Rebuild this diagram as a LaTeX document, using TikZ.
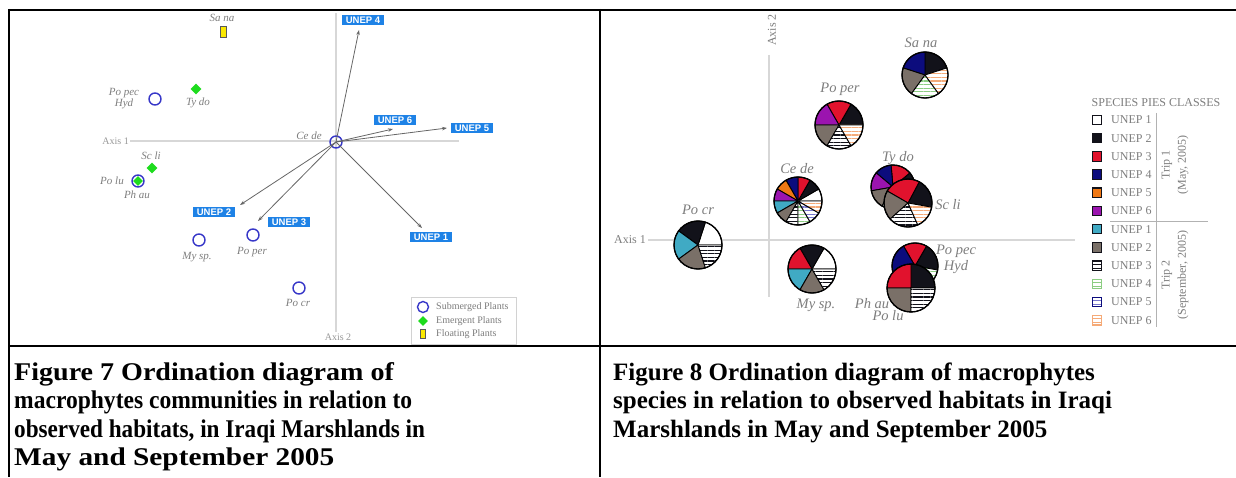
\documentclass[tikz,border=0pt]{standalone}
\usepackage{fontspec}
\setmainfont{Liberation Serif}
\newfontfamily\unepfont{Liberation Sans}
\usetikzlibrary{shapes.geometric, arrows.meta, patterns.meta}

\definecolor{submblue}{RGB}{55,55,200}
\definecolor{emgreen}{RGB}{30,220,30}
\definecolor{floatyellow}{RGB}{250,232,0}
\definecolor{unepblue}{RGB}{30,130,230}
\definecolor{labelgray}{RGB}{125,125,125}
\definecolor{axisgray}{RGB}{215,215,215}
\definecolor{trblack}{RGB}{18,18,26}
\definecolor{trred}{RGB}{225,18,45}
\definecolor{trnavy}{RGB}{12,12,125}
\definecolor{trorange}{RGB}{240,120,20}
\definecolor{trpurple}{RGB}{155,20,175}
\definecolor{trteal}{RGB}{64,170,196}
\definecolor{trgray}{RGB}{122,112,104}
\definecolor{trgreen}{RGB}{140,205,130}
\definecolor{trlav}{RGB}{120,120,205}
\definecolor{trpeach}{RGB}{245,170,120}

\tikzset{
  subm/.style={circle, draw=submblue, line width=1.4pt, minimum size=12pt, inner sep=0pt},
  emer/.style={diamond, fill=emgreen, minimum size=11pt, inner sep=0pt},
  floa/.style={rectangle, fill=floatyellow, draw=gray!70!black, line width=0.8pt, minimum width=6pt, minimum height=11pt, inner sep=0pt},
  sp/.style={font=\fontsize{11}{11}\selectfont\itshape, text=labelgray, inner sep=0pt, align=center},
  rsp/.style={font=\fontsize{14.5}{16}\selectfont\itshape, text=labelgray, inner sep=0pt, align=center},
  unep/.style={fill=unepblue, text=white, font=\unepfont\fontsize{9.5}{10}\selectfont\bfseries, inner sep=1pt, minimum width=42pt, minimum height=10.5pt},
  vec/.style={draw=gray!80!black, line width=0.8pt, -{Stealth[length=5pt,width=3.5pt]}},
  axisline/.style={draw=axisgray, line width=1.2pt},
  axislabel/.style={font=\fontsize{10}{11}\selectfont, text=labelgray!80, inner sep=1pt},
  lgtext/.style={font=\fontsize{10}{10}\selectfont, text=labelgray, inner sep=0pt},
  lgr/.style={font=\fontsize{12}{13}\selectfont, text=labelgray, inner sep=0pt},
  capt/.style={font=\fontsize{25.5}{28.5}\selectfont\bfseries, inner sep=0pt},
  key/.style={rectangle, line width=1.1pt, minimum size=9.5pt, inner sep=0pt},
  may1/.style={fill=white},
  may2/.style={fill=trblack},
  may3/.style={fill=trred},
  may4/.style={fill=trnavy},
  may5/.style={fill=trorange},
  may6/.style={fill=trpurple},
  sep1/.style={fill=trteal},
  sep2/.style={fill=trgray},
  sep3/.style={preaction={fill=white}, pattern={Lines[angle=0,distance=3.6pt,line width=1.3pt]}, pattern color=trblack},
  sep4/.style={preaction={fill=white}, pattern={Lines[angle=0,distance=3.6pt,line width=1.3pt]}, pattern color=trgreen},
  sep5/.style={preaction={fill=white}, pattern={Lines[angle=0,distance=3.6pt,line width=1.3pt]}, pattern color=trlav},
  sep6/.style={preaction={fill=white}, pattern={Lines[angle=0,distance=3.6pt,line width=1.3pt]}, pattern color=trpeach},
}

% center, radius, start/end/style list
\newcommand{\drawpie}[3]{%
  \foreach \a/\b/\s in {#3} {
    \filldraw[\s, draw=black, line width=0.9pt] (#1) -- ++(\a:#2) arc[start angle=\a, end angle=\b, radius=#2] -- cycle;
  }
  \draw[line width=1.3pt] (#1) circle[radius=#2];
}

\begin{document}
\begin{tikzpicture}[x=1pt, y=1pt]
\useasboundingbox (0,0) rectangle (1236,477);

% Table rules
\draw[line width=2.5pt] (8,467) -- (1236,467);
\draw[line width=2.5pt] (8,131) -- (1236,131);
\draw[line width=2.5pt] (9,468) -- (9,0);
\draw[line width=2.5pt] (600,468) -- (600,0);

% ---------- Figure 7 ----------
% Axes
\node[axislabel, anchor=east] (ax1) at (130,336) {Axis 1};
\draw[axisline] (ax1.east) -- (459,336);
\node[axislabel] (ax2) at (338,140) {Axis 2};
\draw[axisline] (336,464) -- (ax2.north -| 336,0);

% Species
\node[floa] (sana) at (223,445) {};
\node[sp] (sanal) at (222,459) {Sa na};
\node[subm] (popec) at (155,378) {};
\node[sp] (popecl) at (124,378.5) {Po pec\\Hyd};
\node[emer] (tydo) at (196,388) {};
\node[sp] (tydol) at (198,374) {Ty do};
\node[emer] (scli) at (152,309) {};
\node[sp] (sclil) at (151,321) {Sc li};
\node[emer, minimum size=10pt] (phau) at (138,296) {};
\node[subm] (polu) at (138,296) {};
\node[sp] (polul) at (112,296) {Po lu};
\node[sp] (phaul) at (137,282) {Ph au};
\node[subm] (mysp) at (199,237) {};
\node[sp] (myspl) at (197,220) {My sp.};
\node[subm] (poper) at (253,242) {};
\node[sp] (poperl) at (252,225) {Po per};
\node[subm] (pocr) at (299,189) {};
\node[sp] (pocrl) at (298,174) {Po cr};
\node[subm] (cede) at (336,335) {};
\node[sp] (cedel) at (309,341) {Ce de};

% Habitat vectors
\node[unep] (u1) at (431,240) {UNEP 1};
\node[unep] (u2) at (214,265) {UNEP 2};
\node[unep] (u3) at (289,255) {UNEP 3};
\node[unep] (u4) at (363,457) {UNEP 4};
\node[unep] (u5) at (472,349) {UNEP 5};
\node[unep] (u6) at (395,357) {UNEP 6};
\coordinate (t1) at (422,249);
\coordinate (t2) at (240,272);
\coordinate (t3) at (258,256);
\coordinate (t4) at (359,447);
\coordinate (t5) at (447,349);
\coordinate (t6) at (393,348);
\foreach \i in {1,...,6}
  \draw[vec] (cede.center) -- (t\i);

% Legend
\draw[draw=gray!35, fill=white] (411,133) rectangle (516,180);
\node[subm, minimum size=11pt] (lgsub) at (423,170) {};
\node[lgtext, anchor=west] (lgsubt) at (436,170) {Submerged Plants};
\node[emer, minimum size=10pt] (lgem) at (423,156) {};
\node[lgtext, anchor=west] (lgemt) at (436,156) {Emergent Plants};
\node[floa, minimum width=5pt, minimum height=9pt] (lgfl) at (423,143) {};
\node[lgtext, anchor=west] (lgflt) at (436,143) {Floating Plants};

% ---------- Figure 8 ----------
% Axes
\node[lgr, anchor=east] (bx1) at (646,237) {Axis 1};
\draw[axisline] (bx1.east) ++(2,0) -- (1075,237);
\node[lgr, rotate=90] (bx2) at (772,447) {Axis 2};
\draw[axisline] (769,422) -- (769,180);

% Pies
\coordinate (piesana) at (925,402);
\coordinate (pieper) at (839,352);
\coordinate (piecede) at (798,276);
\coordinate (pietydo) at (893,290);
\coordinate (piescli) at (908,274);
\coordinate (piecr) at (698,232);
\coordinate (piemysp) at (812,208);
\coordinate (piepec) at (915,211);
\coordinate (piephau) at (911,189);

\drawpie{piesana}{23}{18/90/may2, 90/162/may4, 162/234/sep2, 234/306/sep4, 306/378/sep6}
\drawpie{pieper}{24}{0/60/may2, 60/120/may3, 120/180/may6, 180/240/sep2, 240/300/sep3, 300/360/sep6}
\drawpie{piecede}{24}{0/30/may1, 30/60/may2, 60/90/may3, 90/120/may4, 120/150/may5, 150/180/may6, 180/210/sep1, 210/240/sep2, 240/270/sep3, 270/300/sep4, 300/330/sep5, 330/360/sep6}
\drawpie{pietydo}{22}{-30/40/may2, 40/95/may3, 95/140/may4, 140/190/may6, 190/240/sep2, 240/290/sep3, 290/330/sep6}
\drawpie{piescli}{24}{-10/62/may2, 62/150/may3, 150/222/sep2, 222/294/sep3, 294/350/sep6}
\drawpie{piecr}{24}{0/72/may1, 72/144/may2, 144/216/sep1, 216/288/sep2, 288/360/sep3}
\drawpie{piemysp}{24}{0/60/may1, 60/120/may2, 120/180/may3, 180/240/sep1, 240/300/sep2, 300/360/sep3}
\drawpie{piepec}{23}{-10/60/may2, 60/120/may3, 120/200/may4, 200/270/sep2, 270/325/sep3, 325/350/sep4}
\drawpie{piephau}{24}{0/90/may2, 90/180/may3, 180/270/sep2, 270/360/sep3}

% Species labels
\node[rsp] (sanar) at (921,434) {Sa na};
\node[rsp] (poperr) at (840,388) {Po per};
\node[rsp] (ceder) at (797,308) {Ce de};
\node[rsp] (tydor) at (898,319) {Ty do};
\node[rsp] (sclir) at (948,272) {Sc li};
\node[rsp] (pocrr) at (698,267) {Po cr};
\node[rsp] (myspr) at (816,172) {My sp.};
\node[rsp] (popecr) at (956,218) {Po pec\\Hyd};
\node[rsp] (phaur) at (872,173) {Ph au};
\node[rsp] (polur) at (888,161) {Po lu};

% Legend
\node[lgr] (lgtitle) at (1156,374) {SPECIES PIES CLASSES};
\foreach \st/\dc/\t [count=\i] in {may1/trblack/UNEP 1, may2/trblack/UNEP 2, may3/trblack/UNEP 3, may4/trblack/UNEP 4, may5/trblack/UNEP 5, may6/trblack/UNEP 6, sep1/trblack/UNEP 1, sep2/trblack/UNEP 2, sep3/trblack/UNEP 3, sep4/trgreen/UNEP 4, sep5/trnavy/UNEP 5, sep6/trpeach/UNEP 6} {
  \node[key, \st, draw=\dc] (k\i) at (1097,357-18.2*\i+18.2) {};
  \node[lgr, anchor=west] (kt\i) at (1111,357-18.2*\i+18.2) {\t};
}
\draw[gray!60, line width=0.8pt] (1156,364) -- (1156,150);
\draw[gray!60, line width=0.8pt] (1110,256) -- (1208,256);
\node[lgr, rotate=90] (trip1) at (1167,312) {Trip 1};
\node[lgr, rotate=90] (trip1d) at (1183,312) {(May, 2005)};
\node[lgr, rotate=90] (trip2) at (1167,202) {Trip 2};
\node[lgr, rotate=90] (trip2d) at (1183,202) {(September, 2005)};

% Captions
\foreach \t/\sx [count=\i] in {Figure 7 Ordination diagram of/1.1, macrophytes communities in relation to/0.923, {observed habitats, in Iraqi Marshlands in}/0.909, May and September 2005/1.15}
  \node[capt, anchor=base west] (capa\i) at (14,125.5-28.5*\i) {\scalebox{\sx}[1]{\t}};
\foreach \t [count=\i] in {Figure 8 Ordination diagram of macrophytes, species in relation to observed habitats in Iraqi, Marshlands in May and September 2005}
  \node[capt, font=\fontsize{25}{28.5}\selectfont\bfseries, anchor=base west] (capb\i) at (613,125.5-28.5*\i) {\t};
\end{tikzpicture}
\end{document}
